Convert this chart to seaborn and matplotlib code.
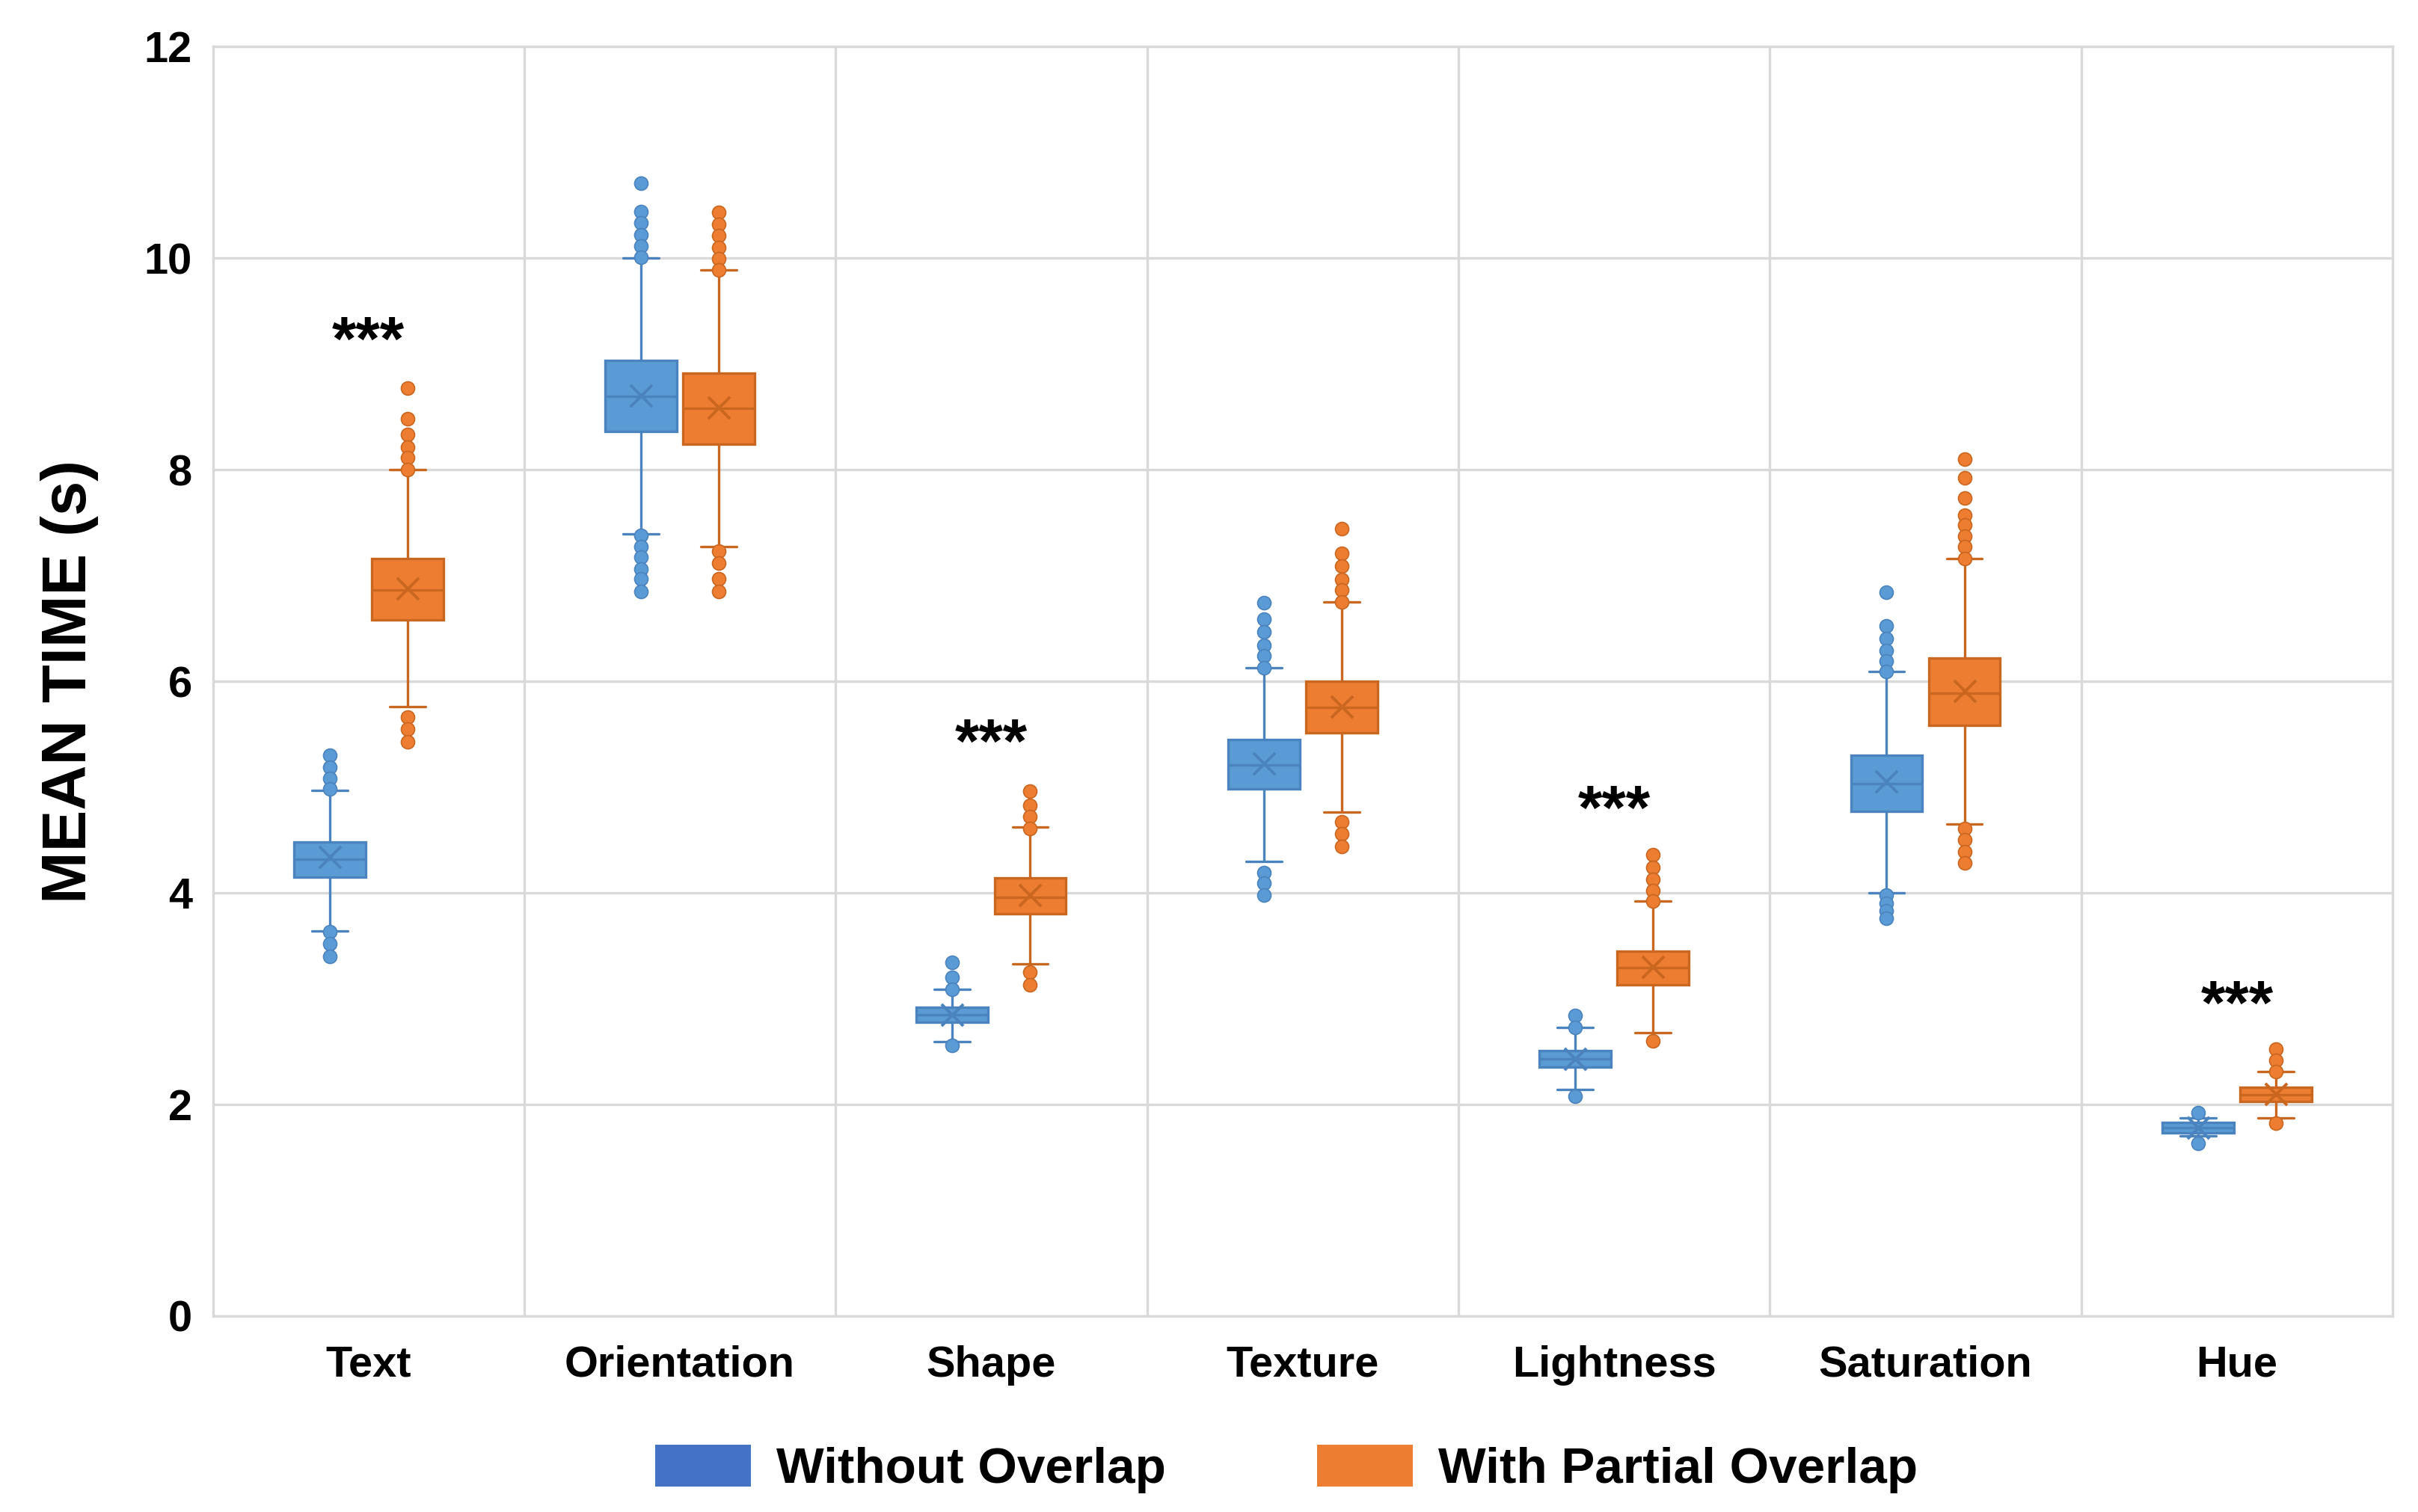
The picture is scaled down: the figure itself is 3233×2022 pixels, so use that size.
import numpy as np
import pandas as pd
import matplotlib
matplotlib.use('Agg')
import matplotlib.pyplot as plt
from matplotlib.patches import Patch
import seaborn as sns

# --- 1. Values ---
categories = ['Text', 'Orientation', 'Shape', 'Texture', 'Lightness', 'Saturation', 'Hue']
groups = ['Without Overlap', 'With Partial Overlap']

# Without Overlap (blue)
blue_wlo = [3.64, 7.39, 2.59, 4.30, 2.14, 4.00, 1.70]
blue_q1 = [4.15, 8.36, 2.78, 4.98, 2.35, 4.77, 1.73]
blue_med = [4.32, 8.69, 2.85, 5.21, 2.43, 5.03, 1.78]
blue_q3 = [4.48, 9.03, 2.92, 5.45, 2.51, 5.30, 1.83]
blue_whi = [4.97, 10.00, 3.09, 6.13, 2.73, 6.09, 1.87]
blue_mean = [4.34, 8.70, 2.85, 5.22, 2.43, 5.05, 1.78]
blue_out = [
    [5.30, 5.19, 5.08, 4.98, 3.63, 3.52, 3.40],
    [10.71, 10.44, 10.33, 10.22, 10.11, 10.01, 7.38, 7.27, 7.17, 7.06, 6.97, 6.85],
    [3.34, 3.20, 3.09, 2.56],
    [6.74, 6.59, 6.47, 6.34, 6.24, 6.13, 4.19, 4.09, 3.98],
    [2.84, 2.73, 2.08],
    [6.84, 6.52, 6.40, 6.29, 6.19, 6.09, 3.98, 3.90, 3.83, 3.76],
    [1.92, 1.63],
]

# With Partial Overlap (orange)
orange_wlo = [5.76, 7.27, 3.33, 4.76, 2.68, 4.65, 1.87]
orange_q1 = [6.58, 8.24, 3.80, 5.51, 3.13, 5.58, 2.03]
orange_med = [6.86, 8.58, 3.96, 5.75, 3.29, 5.89, 2.09]
orange_q3 = [7.16, 8.91, 4.14, 6.00, 3.45, 6.22, 2.16]
orange_whi = [8.00, 9.89, 4.62, 6.75, 3.92, 7.16, 2.31]
orange_mean = [6.88, 8.59, 3.98, 5.76, 3.30, 5.91, 2.10]
orange_out = [
    [8.77, 8.48, 8.33, 8.21, 8.11, 8.00, 5.66, 5.55, 5.43],
    [10.43, 10.32, 10.21, 10.10, 9.99, 9.89, 7.23, 7.12, 6.97, 6.85],
    [4.96, 4.83, 4.72, 4.61, 3.25, 3.13],
    [7.44, 7.21, 7.09, 6.96, 6.86, 6.75, 4.67, 4.56, 4.44],
    [4.36, 4.24, 4.13, 4.02, 3.92, 2.60],
    [8.10, 7.92, 7.73, 7.57, 7.48, 7.37, 7.27, 7.16, 4.61, 4.50, 4.39, 4.28],
    [2.52, 2.42, 2.31, 1.82],
]

# significance marks
sig_cats = ['Text', 'Shape', 'Lightness', 'Hue']
sig_y = [9.37, 5.57, 4.94, 3.10]

# --- 2. Long tables for seaborn ---
stats_by_group = {
    groups[0]: (blue_wlo, blue_q1, blue_med, blue_q3, blue_whi),
    groups[1]: (orange_wlo, orange_q1, orange_med, orange_q3, orange_whi),
}
means_by_group = {groups[0]: blue_mean, groups[1]: orange_mean}
outs_by_group = {groups[0]: blue_out, groups[1]: orange_out}
offsets = {groups[0]: -0.125, groups[1]: 0.125}

box_rows, out_rows, mean_rows = [], [], []
for grp in groups:
    for i, cat in enumerate(categories):
        # five values -> quartiles land exactly on q1/median/q3, whis=(0,100) on the whiskers
        for s in stats_by_group[grp]:
            box_rows.append({'Feature': cat, 'Condition': grp, 'Time': s[i]})
        for v in outs_by_group[grp][i]:
            out_rows.append({'pos': i + offsets[grp], 'Condition': grp, 'Time': v})
        mean_rows.append({'pos': i + offsets[grp], 'Condition': grp, 'Time': means_by_group[grp][i]})
box_df = pd.DataFrame(box_rows)
out_df = pd.DataFrame(out_rows)
mean_df = pd.DataFrame(mean_rows)

fill_colors = {groups[0]: '#5B9BD5', groups[1]: '#ED7D31'}
edge_colors = {groups[0]: '#4A83BD', groups[1]: '#C9661F'}
legend_colors = {groups[0]: '#4472C4', groups[1]: '#ED7D31'}
grid_color = '#D9D9D9'

# --- 3. Plot ---
sns.set_theme(style='white')
plt.rcParams['font.family'] = ['Liberation Sans', 'DejaVu Sans']
plt.rcParams['text.color'] = 'black'
plt.rcParams['xtick.color'] = 'black'
plt.rcParams['ytick.color'] = 'black'

fig = plt.figure(figsize=(3233 / 200, 2022 / 200), dpi=200)
ax = fig.add_axes([0.088, 0.1296, 0.9015, 0.8397])

for grp in groups:
    sns.boxplot(data=box_df[box_df['Condition'] == grp], x='Feature', y='Time',
                hue='Condition', order=categories, hue_order=groups,
                palette=fill_colors, saturation=1, dodge=True, width=0.5, gap=0.08,
                whis=(0, 100), showfliers=False, linecolor=edge_colors[grp],
                linewidth=1.2, legend=False, ax=ax)
    sns.scatterplot(data=out_df[out_df['Condition'] == grp], x='pos', y='Time',
                    color=fill_colors[grp], edgecolor=edge_colors[grp], linewidth=0.6,
                    s=42, zorder=3, legend=False, ax=ax)
    sns.scatterplot(data=mean_df[mean_df['Condition'] == grp], x='pos', y='Time',
                    color=edge_colors[grp], marker='x', s=110, linewidth=1.4,
                    zorder=4, legend=False, ax=ax)

for cat, y in zip(sig_cats, sig_y):
    ax.text(categories.index(cat), y - 0.34, '***', ha='center', va='baseline',
            fontsize=30, fontweight='bold', color='black')

# axes styling
ax.set_xlim(-0.5, len(categories) - 0.5)
ax.set_ylim(0, 12)
ax.set_yticks(np.arange(0, 13, 2))
ax.set_xticks(np.arange(len(categories)))
ax.set_xticklabels(categories)
ax.set_xticks(np.arange(0.5, len(categories) - 0.5, 1), minor=True)
ax.set_axisbelow(True)
ax.yaxis.grid(True, color=grid_color, linewidth=1.2)
ax.xaxis.grid(False, which='major')
ax.xaxis.grid(True, which='minor', color=grid_color, linewidth=1.2)
for sp in ax.spines.values():
    sp.set_color(grid_color)
    sp.set_linewidth(1.2)
ax.tick_params(axis='both', which='both', length=0, colors='black')
ax.tick_params(axis='y', pad=10, labelsize=20.8)
ax.tick_params(axis='x', pad=14, labelsize=20.8)
for lab in ax.get_xticklabels() + ax.get_yticklabels():
    lab.set_fontweight('bold')
ax.set_xlabel('')
ax.set_ylabel('')
fig.text(0.0288, 0.549, 'MEAN TIME (s)', rotation=90, ha='center', va='center',
         fontsize=30, fontweight='bold', color='black')

handles = [Patch(facecolor=legend_colors[g], edgecolor='none') for g in groups]
fig.legend(handles, groups, loc='center', bbox_to_anchor=(0.532, 0.0285), ncol=2,
           frameon=False, prop={'weight': 'bold', 'size': 24.3},
           handlelength=1.9, handleheight=0.92, handletextpad=0.5, columnspacing=3.0,
           labelcolor='black')

fig.savefig('out.png', dpi=200, facecolor='white')
